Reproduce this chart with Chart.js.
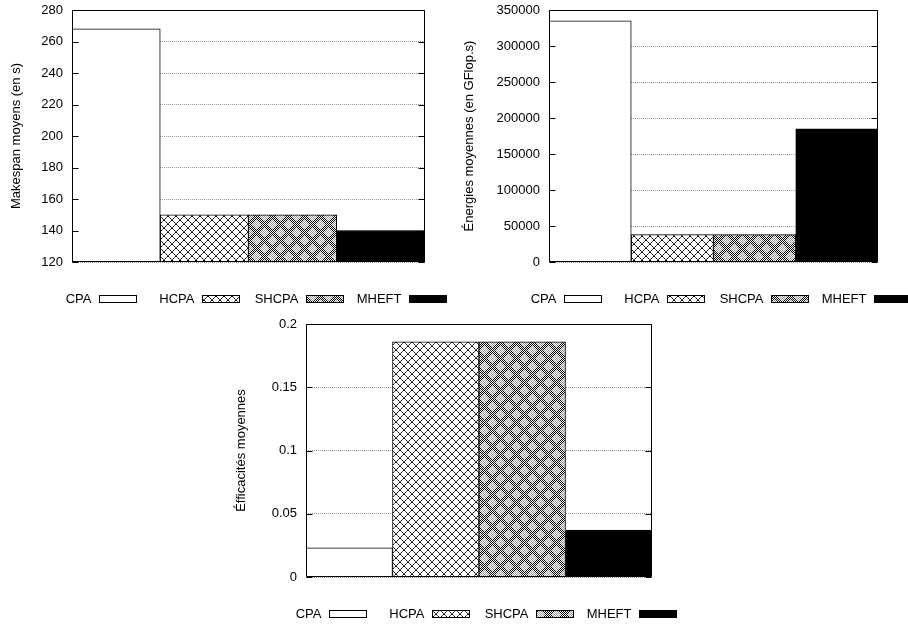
<!DOCTYPE html>
<html>
<head>
<meta charset="utf-8">
<script src="https://cdn.jsdelivr.net/npm/chart.js@4.4.0/dist/chart.umd.min.js"></script>
<style>
  body { margin: 0; background: #fff; width: 908px; height: 624px; position: relative; overflow: hidden; }
  .bloc { position: absolute; }
</style>
</head>
<body>
<div class="bloc" style="left:0;top:0"><canvas id="makespan" width="454" height="310"></canvas></div>
<div class="bloc" style="left:454px;top:0"><canvas id="energie" width="454" height="310"></canvas></div>
<div class="bloc" style="left:220px;top:310px"><canvas id="efficacite" width="460" height="314"></canvas></div>
<script>
const categories = ['CPA', 'HCPA', 'SHCPA', 'MHEFT'];
const makespans = [268, 150, 150, 140];
const energies = [335000, 38000, 38000, 185000];
const efficacites = [0.023, 0.186, 0.186, 0.037];

const ticksMakespan = [120, 140, 160, 180, 200, 220, 240, 260, 280];
const ticksEnergie = [0, 50000, 100000, 150000, 200000, 250000, 300000, 350000];
const ticksEfficacite = [0, 0.05, 0.1, 0.15, 0.2];

const police = { family: "'Liberation Sans', Arial, sans-serif", size: 13 };

// motifs de remplissage facon gnuplot
const motif = (taille, dessin) => {
    const c = document.createElement('canvas');
    c.width = c.height = taille;
    const g = c.getContext('2d');
    g.fillStyle = '#fff';
    g.fillRect(0, 0, taille, taille);
    dessin(g);
    return g.createPattern(c, 'repeat');
}

const motifHCPA = motif(8, (g) => {
    for (let i = 0; i < 8; i++) {
        g.fillStyle = i % 2 ? '#555' : '#000';
        g.fillRect(i, i, 1, 1);
        g.fillRect(7 - i, i, 1, 1);
    }
});

const motifSHCPA = motif(16, (g) => {
    for (let y = 0; y < 16; y++) {
        for (let x = 0; x < 16; x++) {
            if ((x + y) % 2 !== 0) continue;
            const d = Math.min(
                Math.abs(x - 8) + Math.abs(y - 8),
                Math.min(x, 16 - x) + Math.min(y, 16 - y)
            );
            g.fillStyle = d <= 4 ? '#999' : '#000';
            g.fillRect(x, y, 1, 1);
        }
    }
});

const remplissages = ['#fff', motifHCPA, motifSHCPA, '#000'];

const cadre = {
    id: 'cadre',
    afterDatasetsDraw(chart, args, opts) {
        const { ctx, chartArea: { left, right, top, bottom }, scales: { y } } = chart;
        const l = Math.round(left) + 0.5, r = Math.round(right) - 0.5;
        const t = Math.round(top) + 0.5, b = Math.round(bottom) - 0.5;
        ctx.save();
        ctx.strokeStyle = '#000';
        ctx.lineWidth = 1;
        ctx.beginPath();
        ctx.rect(l, t, r - l, b - t);
        y.ticks.forEach(tk => {
            const py = Math.round(y.getPixelForValue(tk.value)) + 0.5;
            ctx.moveTo(l, py); ctx.lineTo(l + 6, py);
            ctx.moveTo(r, py); ctx.lineTo(r - 6, py);
        });
        ctx.stroke();

        // legende : texte puis echantillon
        ctx.font = `${police.size}px ${police.family}`;
        ctx.textAlign = 'right';
        ctx.textBaseline = 'middle';
        chart.data.labels.forEach((nom, i) => {
            const bx = Math.round(opts.x + i * 103.3) + 0.5;
            const by = Math.round(opts.y - 3.5) + 0.5;
            ctx.fillStyle = chart.data.datasets[0].backgroundColor[i];
            ctx.fillRect(bx, by, 37, 7);
            ctx.strokeRect(bx, by, 37, 7);
            ctx.fillStyle = '#000';
            ctx.fillText(nom, bx - 8, opts.y + 1);
        });
        ctx.restore();
    }
};

function graphique(id, valeurs, ticks, titre, mise) {
    new Chart(document.getElementById(id), {
        type: 'bar',
        data: {
            labels: categories,
            datasets: [{
                data: valeurs,
                backgroundColor: remplissages,
                borderColor: '#000',
                borderWidth: 1,
                categoryPercentage: 1,
                barPercentage: 1
            }]
        },
        options: {
            responsive: false,
            animation: false,
            layout: { padding: { top: mise.haut, right: mise.droite, bottom: mise.bas, left: 0 } },
            plugins: {
                legend: { display: false },
                tooltip: { enabled: false },
                cadre: { x: mise.legX, y: mise.legY }
            },
            scales: {
                x: { display: false },
                y: {
                    min: ticks[0],
                    max: ticks[ticks.length - 1],
                    afterBuildTicks: (s) => { s.ticks = ticks.map(v => ({ value: v })); },
                    afterFit: (s) => {
                        s.width = mise.largeur;
                        s.paddingTop = 0;
                        s.paddingBottom = 0;
                    },
                    ticks: {
                        color: '#000',
                        font: police,
                        padding: 9,
                        callback: (v) => String(+v.toFixed(2))
                    },
                    grid: { drawTicks: false, color: '#999', lineWidth: 1 },
                    border: { display: false, dash: [1, 1] },
                    title: {
                        display: true,
                        text: titre,
                        color: '#000',
                        font: police,
                        padding: { top: mise.titre, bottom: 0 }
                    }
                }
            }
        },
        plugins: [cadre]
    });
}

graphique('makespan', makespans, ticksMakespan, 'Makespan moyens (en s)',
    { haut: 10, bas: 48, droite: 29, largeur: 72, titre: 9, legX: 99, legY: 298 });
graphique('energie', energies, ticksEnergie, 'Énergies moyennes (en GFlop.s)',
    { haut: 10, bas: 48, droite: 30, largeur: 95, titre: 8, legX: 110, legY: 298 });
graphique('efficacite', efficacites, ticksEfficacite, 'Éfficacités moyennes',
    { haut: 14, bas: 47, droite: 28, largeur: 86, titre: 14, legX: 109, legY: 303 });
</script>
</body>
</html>
